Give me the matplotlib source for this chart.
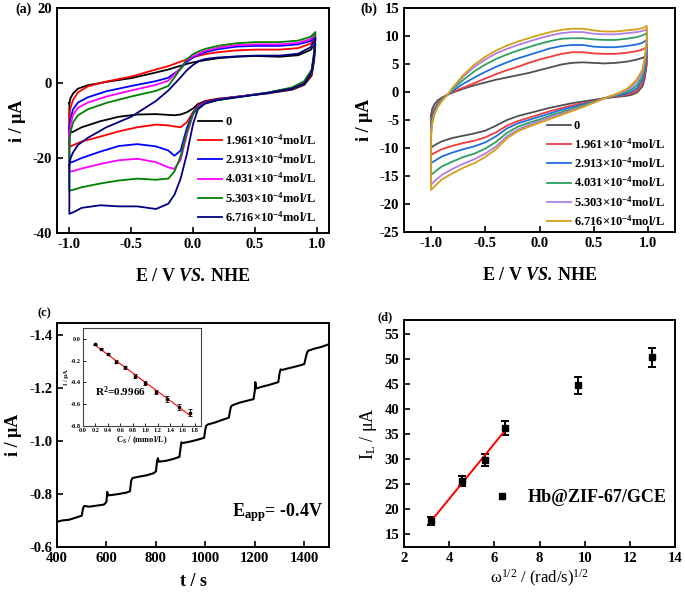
import numpy as np
import matplotlib
matplotlib.use('Agg')
import matplotlib.pyplot as plt
from matplotlib.lines import Line2D

plt.rcParams.update({
    'font.family': ['Liberation Serif', 'DejaVu Serif'],
    'font.weight': 'bold',
    'axes.labelweight': 'bold',
    'mathtext.fontset': 'custom',
    'mathtext.rm': 'Liberation Serif',
    'mathtext.bf': 'Liberation Serif:bold',
    'mathtext.it': 'Liberation Serif:italic',
    'mathtext.sf': 'Liberation Serif:bold:italic',
    'mathtext.default': 'regular',
    'axes.unicode_minus': False,
    'axes.linewidth': 1.4,
    'xtick.direction': 'in',
    'ytick.direction': 'in',
    'xtick.major.width': 1.2,
    'ytick.major.width': 1.2,
    'xtick.major.size': 4,
    'ytick.major.size': 4,
})

# ---------------- data: panel (a) ----------------
a_labels = ['0', '1.961×10$^{-4}$mol/L', '2.913×10$^{-4}$mol/L',
            '4.031×10$^{-4}$mol/L', '5.303×10$^{-4}$mol/L', '6.716×10$^{-4}$mol/L']
a_colors = ['#000000', '#ff0000', '#0000ff', '#ff00ff', '#008000', '#000080']
a_up_E = [-1.0, -0.99, -0.97, -0.93, -0.85, -0.7, -0.5, -0.3, -0.2, -0.1, -0.05,
          0.0, 0.05, 0.1, 0.2, 0.35, 0.5, 0.7, 0.85, 0.95, 0.99]
a_up_i = [
    [-5.3, -4.0, -2.8, -1.5, -0.6, 0.3, 1.3, 2.8, 3.6, 4.6, 5.1, 5.5, 5.8, 6.1, 6.6, 7.0, 7.2, 7.0, 7.4, 8.8, 10.5],
    [-8.4, -6.5, -4.5, -2.5, -0.9, 0.4, 1.7, 3.6, 4.5, 5.7, 6.3, 6.9, 7.3, 7.7, 8.2, 8.7, 8.9, 8.9, 9.3, 10.5, 12.0],
    [-12.0, -9.5, -7.0, -5.2, -3.8, -2.2, -0.8, 0.5, 1.4, 3.8, 5.6, 6.8, 7.6, 8.2, 9.0, 9.7, 9.9, 9.9, 10.3, 11.2, 12.4],
    [-13.8, -11.0, -8.5, -6.6, -5.2, -3.6, -2.0, -0.5, 0.6, 4.0, 6.0, 7.1, 7.9, 8.6, 9.4, 10.1, 10.3, 10.3, 10.7, 11.7, 12.9],
    [-15.6, -13.0, -10.5, -8.6, -7.0, -5.3, -3.6, -2.1, -0.8, 3.8, 6.3, 7.7, 8.5, 9.1, 9.9, 10.6, 10.9, 10.9, 11.3, 12.3, 13.6],
    [-21.8, -20.0, -18.5, -16.5, -14.6, -11.8, -9.0, -4.8, -2.0, 1.5, 3.4, 4.8, 5.9, 6.4, 6.8, 7.1, 7.3, 7.3, 7.8, 9.5, 11.8],
]
a_dn_E = [0.99, 0.98, 0.96, 0.9, 0.8, 0.6, 0.4, 0.2, 0.1, 0.04, 0.0, -0.05, -0.1,
          -0.15, -0.2, -0.3, -0.45, -0.6, -0.75, -0.9, -0.97, -1.0]
a_dn_i = [
    [10.5, 6.0, 2.0, -0.5, -1.8, -2.8, -3.5, -4.2, -4.8, -5.6, -6.8, -7.8, -8.4, -8.6, -8.5, -8.3, -8.4, -9.0, -10.2, -11.8, -13.0, -13.3],
    [12.0, 7.0, 2.5, -0.3, -1.6, -2.7, -3.5, -4.3, -5.0, -6.0, -7.8, -10.5, -11.8, -11.6, -11.3, -11.1, -11.8, -12.9, -14.3, -15.6, -16.6, -17.0],
    [12.4, 7.5, 3.0, 0.0, -1.4, -2.6, -3.5, -4.4, -5.2, -6.2, -8.0, -12.0, -18.0, -19.4, -18.0, -16.9, -16.3, -16.8, -18.3, -20.0, -21.0, -21.3],
    [12.9, 8.0, 3.3, 0.2, -1.3, -2.6, -3.5, -4.5, -5.3, -6.4, -8.5, -13.8, -20.5, -22.9, -22.5, -21.1, -20.2, -20.6, -21.6, -22.8, -23.5, -23.6],
    [13.6, 8.5, 3.6, 0.5, -1.2, -2.6, -3.6, -4.6, -5.5, -6.6, -8.2, -13.0, -19.5, -23.6, -25.5, -25.8, -25.5, -26.0, -26.8, -27.8, -28.5, -28.7],
    [11.8, 7.5, 3.0, -0.2, -1.5, -2.7, -3.6, -4.5, -5.4, -7.0, -11.0, -19.0, -25.5, -29.8, -32.2, -33.6, -32.9, -32.9, -32.6, -33.3, -34.5, -34.9],
]

# ---------------- data: panel (b) ----------------
b_labels = a_labels
b_colors = ['#505050', '#f23c3c', '#1f6fe0', '#2ca05f', '#b07ee0', '#d4a017']
b_up_E = [-1.0, -0.99, -0.97, -0.94, -0.9, -0.85, -0.8, -0.7, -0.6, -0.5, -0.4, -0.3, -0.2,
          -0.1, 0.0, 0.1, 0.2, 0.3, 0.4, 0.5, 0.6, 0.7, 0.8, 0.9, 0.95, 0.99]
b_up_i = [
    [-4.2, -3.0, -2.2, -1.5, -1.0, -0.5, -0.1, 0.6, 1.2, 1.7, 2.2, 2.6, 3.0, 3.4, 3.9, 4.4, 4.9, 5.2, 5.3, 5.2, 5.1, 5.2, 5.4, 5.8, 6.1, 6.5],
    [-5.5, -4.0, -3.0, -2.0, -1.2, -0.5, 0.0, 0.8, 1.6, 2.4, 3.2, 3.9, 4.5, 5.2, 5.8, 6.3, 6.8, 7.1, 7.1, 6.9, 6.8, 6.8, 7.0, 7.3, 7.6, 8.0],
    [-6.2, -4.5, -3.3, -2.2, -1.3, -0.5, 0.2, 1.5, 2.6, 3.6, 4.5, 5.3, 6.0, 6.6, 7.2, 7.8, 8.2, 8.4, 8.4, 8.1, 8.0, 8.0, 8.2, 8.5, 8.8, 9.3],
    [-6.8, -5.0, -3.6, -2.4, -1.4, -0.5, 0.5, 2.2, 3.7, 4.9, 5.9, 6.7, 7.4, 8.0, 8.6, 9.1, 9.5, 9.6, 9.6, 9.4, 9.3, 9.3, 9.5, 9.8, 10.1, 10.5],
    [-7.4, -5.4, -3.9, -2.6, -1.5, -0.5, 0.7, 2.8, 4.5, 5.8, 6.9, 7.7, 8.4, 9.0, 9.6, 10.1, 10.5, 10.7, 10.7, 10.4, 10.3, 10.3, 10.5, 10.7, 10.9, 11.2],
    [-7.8, -5.7, -4.1, -2.7, -1.6, -0.5, 0.8, 3.1, 4.9, 6.3, 7.4, 8.3, 9.0, 9.6, 10.2, 10.7, 11.1, 11.3, 11.3, 11.0, 10.8, 10.8, 11.0, 11.2, 11.4, 11.8],
]
b_dn_E = [0.99, 0.97, 0.95, 0.9, 0.85, 0.8, 0.7, 0.6, 0.5, 0.4, 0.3, 0.2, 0.1, 0.0,
          -0.1, -0.2, -0.3, -0.4, -0.5, -0.6, -0.7, -0.8, -0.9, -0.95, -1.0]
b_dn_i = [
    [5.0, 2.3, 1.0, -0.1, -0.5, -0.7, -0.9, -1.1, -1.4, -1.7, -2.0, -2.4, -2.8, -3.3, -3.8, -4.3, -5.0, -6.0, -6.9, -7.4, -7.8, -8.2, -8.8, -9.3, -9.9],
    [6.0, 3.0, 1.6, 0.3, -0.2, -0.5, -0.8, -1.1, -1.6, -2.0, -2.4, -2.9, -3.4, -4.0, -4.6, -5.2, -6.0, -7.2, -8.1, -8.7, -9.1, -9.6, -10.2, -10.7, -11.2],
    [7.0, 3.8, 2.2, 0.7, 0.1, -0.3, -0.7, -1.1, -1.7, -2.2, -2.7, -3.2, -3.8, -4.4, -5.0, -5.6, -6.5, -7.9, -9.0, -9.7, -10.2, -10.8, -11.5, -12.1, -12.7],
    [8.0, 4.6, 2.8, 1.2, 0.5, 0.0, -0.6, -1.1, -1.8, -2.4, -3.0, -3.6, -4.2, -4.9, -5.5, -6.2, -7.3, -8.9, -10.1, -11.0, -11.6, -12.4, -13.3, -14.0, -14.8],
    [8.8, 5.4, 3.5, 1.8, 0.9, 0.3, -0.5, -1.1, -1.9, -2.6, -3.2, -3.9, -4.5, -5.2, -5.9, -6.7, -7.9, -9.7, -11.0, -12.0, -12.8, -13.7, -14.8, -15.6, -16.5],
    [9.5, 6.0, 4.0, 2.3, 1.3, 0.5, -0.4, -1.1, -1.9, -2.7, -3.4, -4.1, -4.8, -5.5, -6.2, -7.0, -8.3, -10.2, -11.6, -12.7, -13.5, -14.5, -15.6, -16.5, -17.5],
]

# ---------------- data: panel (c) ----------------
c_t = [400, 420, 450, 480, 500, 505, 510, 530, 560, 590, 600, 603, 607, 620, 650, 680, 695, 700,
       705, 730, 760, 790, 800, 805, 808, 812, 840, 870, 895, 900, 903, 908, 940, 970, 995, 1000,
       1004, 1010, 1040, 1070, 1095, 1100, 1104, 1110, 1140, 1170, 1195, 1200, 1202, 1206, 1230,
       1260, 1295, 1300, 1304, 1310, 1340, 1370, 1400, 1405, 1410, 1415, 1440, 1470, 1500]
c_i = [-0.695, -0.700, -0.703, -0.712, -0.718, -0.745, -0.755, -0.752, -0.756, -0.760, -0.770,
       -0.808, -0.795, -0.796, -0.800, -0.805, -0.810, -0.850, -0.860, -0.865, -0.870, -0.878,
       -0.885, -0.925, -0.935, -0.922, -0.925, -0.932, -0.940, -0.975, -0.995, -0.992, -0.998,
       -1.005, -1.012, -1.045, -1.058, -1.062, -1.070, -1.080, -1.088, -1.115, -1.130, -1.135,
       -1.145, -1.152, -1.158, -1.190, -1.222, -1.198, -1.205, -1.212, -1.222, -1.255, -1.270,
       -1.268, -1.275, -1.282, -1.290, -1.310, -1.330, -1.340, -1.348, -1.355, -1.365]
ins_c = [0.2, 0.296, 0.41, 0.53, 0.68, 0.83, 1.0, 1.17, 1.35, 1.54, 1.73]
ins_i = [-0.049, -0.089, -0.141, -0.209, -0.261, -0.339, -0.409, -0.486, -0.554, -0.625, -0.677]
ins_err = [0.006, 0.008, 0.010, 0.012, 0.012, 0.018, 0.018, 0.020, 0.025, 0.025, 0.035]

# ---------------- data: panel (d) ----------------
d_w = [3.21, 4.58, 5.59, 6.46, 9.71, 12.96]
d_I = [17.7, 25.6, 29.8, 36.2, 44.8, 50.4]
d_err = [0.8, 1.0, 1.2, 1.4, 1.7, 1.9]
d_fit_n = 4

W, H = 685, 596
fig = plt.figure(figsize=(W / 100, H / 100), dpi=100)


def ax_px(l, t, r, b):
    return fig.add_axes([l / W, 1 - b / H, (r - l) / W, (b - t) / H])


TICK = 10.5
LAB = 13
EX_LABEL = 'E / V $\\mathsf{VS.}\\,$NHE'

# ---- (a) ----
ax = ax_px(57, 8, 329, 233)
for k in range(6):
    E = a_up_E + a_dn_E + [a_up_E[0]]
    I = a_up_i[k] + a_dn_i[k] + [a_up_i[k][0]]
    ax.plot(E, I, color=a_colors[k], lw=1.3, label=a_labels[k])
ax.set_xlim(-1.1, 1.1)
ax.set_ylim(-40, 20)
ax.set_xticks([-1.0, -0.5, 0.0, 0.5, 1.0])
ax.set_xticklabels(['-1.0', '-0.5', '0.0', '0.5', '1.0'])
ax.set_yticks([20, 0, -20, -40])
ax.tick_params(labelsize=TICK)
ax.set_xlabel(EX_LABEL, fontsize=LAB, labelpad=12)
ax.set_ylabel('i / μA', fontsize=LAB, labelpad=5)
ax.legend(loc='upper left', bbox_to_anchor=(0.52, 0.52), frameon=False, fontsize=9,
          handlelength=1.9, handletextpad=0.25, labelspacing=0.38, borderpad=0, borderaxespad=0)
fig.text(15 / W, 1 - 9 / H, '(a)', fontsize=10, va='center', ha='left')

# ---- (b) ----
ax = ax_px(404, 8, 675, 232)
for k in range(6):
    E = b_up_E + b_dn_E + [b_up_E[0]]
    I = b_up_i[k] + b_dn_i[k] + [b_up_i[k][0]]
    ax.plot(E, I, color=b_colors[k], lw=1.3, label=b_labels[k])
ax.set_xlim(-1.25, 1.25)
ax.set_ylim(-25, 15)
ax.set_xticks([-1.0, -0.5, 0.0, 0.5, 1.0])
ax.set_xticklabels(['-1.0', '-0.5', '0.0', '0.5', '1.0'])
ax.set_yticks(np.arange(-25, 16, 5))
ax.tick_params(labelsize=TICK)
ax.set_xlabel(EX_LABEL, fontsize=LAB, labelpad=12)
ax.set_ylabel('i / μA', fontsize=LAB, labelpad=5)
ax.legend(loc='upper left', bbox_to_anchor=(0.528, 0.50), frameon=False, fontsize=9,
          handlelength=1.9, handletextpad=0.25, labelspacing=0.38, borderpad=0, borderaxespad=0)
fig.text(360 / W, 1 - 9 / H, '(b)', fontsize=10, va='center', ha='left')

# ---- (c) ----
ax = ax_px(57, 323, 329, 547)
ax.plot(c_t, c_i, color='black', lw=1.5)
ax.set_xlim(400, 1500)
ax.set_ylim(-0.6, -1.445)
ax.set_xticks(np.arange(400, 1401, 200))
ax.set_yticks([-0.6, -0.8, -1.0, -1.2, -1.4])
ax.set_yticklabels(['-0.6', '-0.8', '-1.0', '-1.2', '-1.4'])
ax.tick_params(labelsize=TICK)
ax.set_xlabel('t / s', fontsize=LAB, labelpad=6)
ax.set_ylabel('i / μA', fontsize=LAB, labelpad=5)
ax.text(0.645, 0.155, 'E$_{app}$= -0.4V', transform=ax.transAxes, fontsize=13,
        ha='left', va='center')
fig.text(37 / W, 1 - 313 / H, '(c)', fontsize=9, va='center', ha='left')

ins = ax_px(83, 328, 201, 426)
ins.errorbar(ins_c, ins_i, yerr=ins_err, fmt='s', ms=1.8, color='black', ecolor='black',
             elinewidth=0.6, capsize=1.2, capthick=0.6)
p = np.polyfit(ins_c, ins_i, 1)
xf = np.array([ins_c[0], ins_c[-1]])
ins.plot(xf, np.polyval(p, xf), color='red', lw=0.8)
ins.set_xlim(0, 1.9)
ins.set_ylim(-0.8, 0.1)
ins.set_xticks(np.arange(0, 1.81, 0.2))
ins.set_xticklabels(['%.1f' % v for v in np.arange(0, 1.81, 0.2)])
ins.set_yticks([0.0, -0.2, -0.4, -0.6, -0.8])
ins.set_yticklabels(['0.0', '-0.2', '-0.4', '-0.6', '-0.8'])
ins.tick_params(labelsize=4.5, length=2, width=0.6, pad=1.5)
for s in ins.spines.values():
    s.set_linewidth(0.8)
    s.set_color('#444444')
ins.set_xlabel('C$_{S}$ / (mmol/L)', fontsize=6, labelpad=1)
ins.set_ylabel('I / μA', fontsize=4.5, labelpad=1)
ins.text(0.1, 0.35, 'R$^{2}$=0.9966', transform=ins.transAxes, fontsize=8, ha='left', va='center')

# ---- (d) ----
ax = ax_px(404, 320, 675, 547)
ax.errorbar(d_w, d_I, yerr=d_err, fmt='s', ms=5, color='black', ecolor='black',
            elinewidth=1.4, capsize=3, capthick=1.4)
p = np.polyfit(d_w[:d_fit_n], d_I[:d_fit_n], 1)
xf = np.array([d_w[0], d_w[d_fit_n - 1]])
ax.plot(xf, np.polyval(p, xf), color='red', lw=1.4)
ax.set_xlim(2, 14)
ax.set_ylim(12.4, 57.8)
ax.set_xticks(np.arange(2, 15, 2))
ax.set_yticks(np.arange(15, 56, 5))
ax.tick_params(labelsize=TICK)
ax.set_xlabel('ω$^{1/2}$ / (rad/s)$^{1/2}$', fontsize=12, fontweight='normal', labelpad=2)
ax.set_ylabel('I$_{L}$ / μA', fontsize=13, fontweight='normal', labelpad=4)
h = Line2D([], [], marker='s', color='black', linestyle='None', markersize=5)
ax.legend([h], ['Hb@ZIF-67/GCE'], loc='center left', bbox_to_anchor=(0.328, 0.216),
          frameon=False, fontsize=13, handlelength=1.0, handletextpad=0.9,
          borderpad=0, borderaxespad=0)
fig.text(378 / W, 1 - 317 / H, '(d)', fontsize=9, va='center', ha='left')

fig.savefig('out.png', dpi=100)
